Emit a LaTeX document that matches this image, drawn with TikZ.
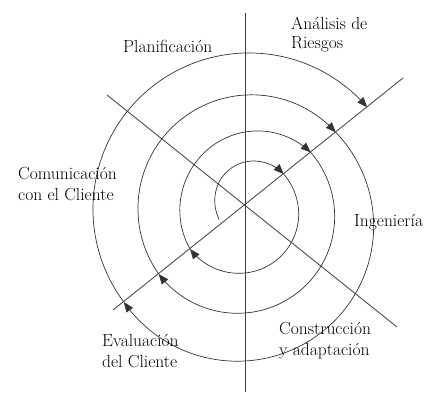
\documentclass[tikz,border=0pt]{standalone}
\usetikzlibrary{arrows.meta}
\tikzset{
	lbl/.style  = {inner sep=0pt,align=left,anchor=base west,
		font=\fontsize{17.5}{21}\selectfont},
	axis/.style = {line width=0.8pt,black!75},
	spir/.style = {line width=0.7pt,black!80},
	arr/.style  = {spir,-{Triangle[length=10pt,width=8pt]}},
}

\begin{document}
\begin{tikzpicture}[x=1pt,y=1pt]
	\useasboundingbox (-245,-187) rectangle (196,205);
	
	\coordinate (c)  at (0,0);
	\coordinate (n)  at (0,192);
	\coordinate (s)  at (0,-187);
	\coordinate (nw) at (-138,110);
	\coordinate (se) at (152,-122);
	\coordinate (sw) at (-132,-105);
	\coordinate (ne) at (158,127);
	
	\draw[axis](n)--(s);
	\draw[axis](nw)--(se);
	\draw[axis](sw)--(ne);
	
	%% espiral, de dentro hacia fuera (sentido horario)
	%% cada media vuelta: r = a + b cos t + c sin t
	\draw[arr] plot[domain=209:38.7,samples=40,smooth,variable=\t]
	(\t:{39.85+9.85*cos(\t)+3.15*sin(\t)});
	\draw[arr] plot[domain=38.7:-141.3,samples=40,smooth,variable=\t]
	(\t:{59.95-6.95*cos(\t)-8.05*sin(\t)});
	\draw[arr] plot[domain=218.7:38.7,samples=40,smooth,variable=\t]
	(\t:{77.31+12.31*cos(\t)-4.31*sin(\t)});
	\draw[arr] plot[domain=38.7:-141.3,samples=40,smooth,variable=\t]
	(\t:{97.37-8.37*cos(\t)-10.63*sin(\t)});
	\draw[arr] plot[domain=218.7:38.7,samples=40,smooth,variable=\t]
	(\t:{113.42+6.42*cos(\t)-3.42*sin(\t)});
	\draw[arr] plot[domain=38.7:-141.3,samples=40,smooth,variable=\t]
	(\t:{135.8-8.8*cos(\t)-20.2*sin(\t)});
	\draw[arr] plot[domain=218.7:38.7,samples=40,smooth,variable=\t]
	(\t:{155.9+3.9*cos(\t)-3.9*sin(\t)});
	
	\node (plan) [lbl] at (-122,153) {Planificación};
	\node (ries) [lbl] at (46,157) {Análisis de\\[-2pt]Riesgos};
	\node (comu) [lbl] at (-227,5) {Comunicación\\con el Cliente};
	\node (inge) [lbl] at (109,-21) {Ingeniería};
	\node (eval) [lbl] at (-143,-162) {Evaluación\\del Cliente};
	\node (cons) [lbl] at (34,-150) {Construcción\\y adaptación};
\end{tikzpicture}
\end{document}
